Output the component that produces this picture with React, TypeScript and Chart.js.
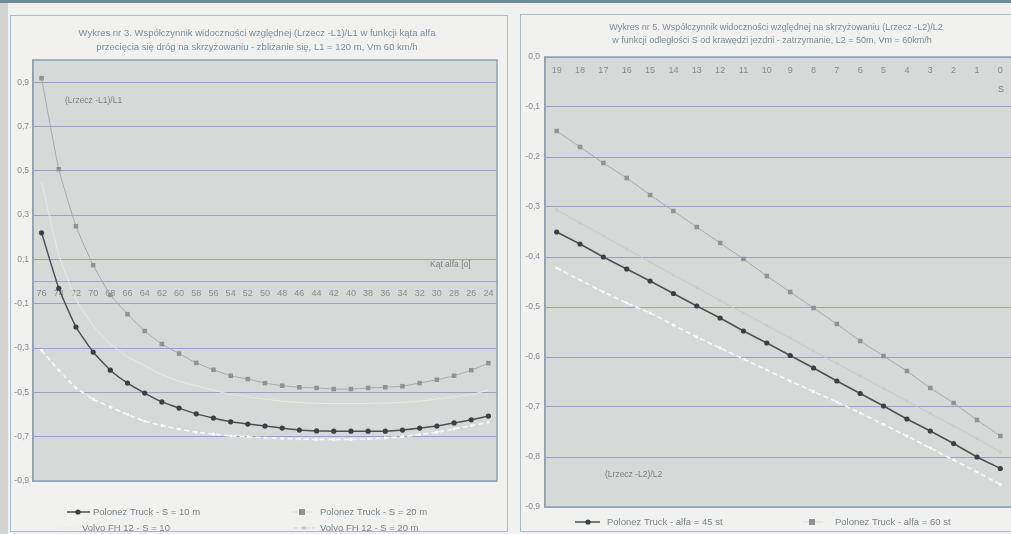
import React, { useEffect, useRef } from "react";
import { Chart, registerables } from "chart.js";

Chart.register(...registerables);

// ---------- data: left chart (Wykres nr 3) ----------
const leftCategories = ["76", "74", "72", "70", "68", "66", "64", "62", "60", "58", "56", "54", "52", "50", "48", "46", "44", "42", "40", "38", "36", "34", "32", "30", "28", "26", "24"];
const leftYTicks = [0.9, 0.7, 0.5, 0.3, 0.1, -0.1, -0.3, -0.5, -0.7, -0.9];
const polonezS10 = [0.22, -0.03, -0.205, -0.318, -0.4, -0.458, -0.503, -0.543, -0.571, -0.597, -0.616, -0.633, -0.643, -0.652, -0.661, -0.67, -0.674, -0.675, -0.675, -0.675, -0.675, -0.67, -0.661, -0.652, -0.638, -0.624, -0.607];
const polonezS20 = [0.918, 0.507, 0.25, 0.074, -0.06, -0.147, -0.223, -0.282, -0.325, -0.367, -0.398, -0.425, -0.44, -0.458, -0.47, -0.477, -0.48, -0.485, -0.485, -0.48, -0.477, -0.472, -0.458, -0.443, -0.425, -0.4, -0.368];
const volvoS10 = [0.45, 0.12, -0.08, -0.2, -0.28, -0.34, -0.38, -0.42, -0.45, -0.47, -0.49, -0.51, -0.52, -0.53, -0.54, -0.545, -0.55, -0.55, -0.55, -0.55, -0.548, -0.545, -0.54, -0.53, -0.52, -0.51, -0.49];
const volvoS20 = [-0.31, -0.4, -0.48, -0.53, -0.566, -0.6, -0.63, -0.65, -0.666, -0.68, -0.688, -0.697, -0.7, -0.705, -0.708, -0.71, -0.712, -0.712, -0.712, -0.71, -0.705, -0.7, -0.69, -0.68, -0.665, -0.65, -0.635];

// ---------- data: right chart (Wykres nr 5) ----------
const rightCategories = ["19", "18", "17", "16", "15", "14", "13", "12", "11", "10", "9", "8", "7", "6", "5", "4", "3", "2", "1", "0"];
const rightYTicks = [0, -0.1, -0.2, -0.3, -0.4, -0.5, -0.6, -0.7, -0.8, -0.9];
const polonezA45 = [-0.35, -0.374, -0.4, -0.424, -0.448, -0.473, -0.498, -0.522, -0.548, -0.572, -0.597, -0.622, -0.648, -0.673, -0.698, -0.724, -0.748, -0.773, -0.8, -0.823];
const polonezA60 = [-0.148, -0.18, -0.212, -0.242, -0.276, -0.308, -0.34, -0.372, -0.404, -0.438, -0.47, -0.502, -0.534, -0.568, -0.598, -0.628, -0.662, -0.692, -0.726, -0.758];
const volvoA60 = [-0.306, -0.332, -0.358, -0.384, -0.41, -0.436, -0.461, -0.487, -0.512, -0.537, -0.562, -0.588, -0.613, -0.638, -0.663, -0.688, -0.713, -0.738, -0.763, -0.79];
const volvoA45 = [-0.422, -0.446, -0.47, -0.492, -0.512, -0.536, -0.56, -0.582, -0.604, -0.626, -0.648, -0.669, -0.69, -0.712, -0.735, -0.758, -0.782, -0.806, -0.83, -0.855];

const FONT = "'Liberation Sans', Arial, sans-serif";
const PLOT_BG = "#d5dad9";
const GRID = "rgba(118,122,188,0.6)";
const TICK_COLOR = "#858d92";
const DARK = "#4a5254";
const DARK_PT = "#394143";
const GRAY_LINE = "#a3abab";
const GRAY_PT = "#8c9494";

const fmt = (v: number) => v.toFixed(1).replace(".", ",");

type TextItem = { text: string; x: number; y: number; size: number; color: string; align?: CanvasTextAlign };
type LegendItem = {
  y: number;
  textX: number;
  text: string;
  line?: { x1: number; x2: number; color: string; width: number; dash?: number[] };
  marker?: { style: "circle" | "rect"; x: number; r: number; color: string };
};

function decorPlugin(id: string, texts: TextItem[], legend: LegendItem[]) {
  return {
    id,
    beforeDraw(chart: any) {
      const { ctx, chartArea: a } = chart;
      ctx.save();
      ctx.fillStyle = PLOT_BG;
      ctx.fillRect(a.left, a.top, a.right - a.left, a.bottom - a.top);
      ctx.restore();
    },
    afterDraw(chart: any) {
      const { ctx, chartArea: a } = chart;
      ctx.save();
      ctx.strokeStyle = "#8fa3b0";
      ctx.lineWidth = 1.5;
      ctx.strokeRect(a.left, a.top, a.right - a.left, a.bottom - a.top);
      ctx.textBaseline = "middle";
      for (const t of texts) {
        ctx.font = `${t.size}px ${FONT}`;
        ctx.fillStyle = t.color;
        ctx.textAlign = t.align || "left";
        ctx.fillText(t.text, t.x, t.y);
      }
      for (const l of legend) {
        if (l.line) {
          ctx.beginPath();
          ctx.setLineDash(l.line.dash || []);
          ctx.strokeStyle = l.line.color;
          ctx.lineWidth = l.line.width;
          ctx.moveTo(l.line.x1, l.y);
          ctx.lineTo(l.line.x2, l.y);
          ctx.stroke();
          ctx.setLineDash([]);
        }
        if (l.marker) {
          ctx.fillStyle = l.marker.color;
          if (l.marker.style === "circle") {
            ctx.beginPath();
            ctx.arc(l.marker.x, l.y, l.marker.r, 0, Math.PI * 2);
            ctx.fill();
          } else {
            ctx.fillRect(l.marker.x - l.marker.r, l.y - l.marker.r, l.marker.r * 2, l.marker.r * 2);
          }
        }
        ctx.font = `9.5px ${FONT}`;
        ctx.fillStyle = "#7c8488";
        ctx.textAlign = "left";
        ctx.fillText(l.text, l.textX, l.y);
      }
      ctx.restore();
    },
  };
}

function ds(label: string, data: number[], kind: "dark" | "gray" | "pale" | "white" | "light") {
  const base: any = { label, data, tension: 0.15, clip: 4 };
  if (kind === "dark") {
    return { ...base, borderColor: DARK, borderWidth: 1.5, pointStyle: "circle", pointRadius: 2.6, pointBackgroundColor: DARK_PT, pointBorderColor: DARK_PT, pointBorderWidth: 0 };
  }
  if (kind === "gray") {
    return { ...base, borderColor: GRAY_LINE, borderWidth: 1, pointStyle: "rect", pointRadius: 3.2, pointBackgroundColor: GRAY_PT, pointBorderColor: GRAY_PT, pointBorderWidth: 0 };
  }
  if (kind === "pale") {
    return { ...base, borderColor: "rgba(236,236,222,0.9)", borderWidth: 1, pointRadius: 0 };
  }
  if (kind === "light") {
    return { ...base, borderColor: "#c3cacb", borderWidth: 1, pointStyle: "rect", pointRadius: 2, pointBackgroundColor: "#c7cdce", pointBorderWidth: 0 };
  }
  return { ...base, borderColor: "#f6f8f8", borderWidth: 1.6, borderDash: [5, 3], pointStyle: "rect", pointRadius: 1.8, pointBackgroundColor: "#ffffff", pointBorderWidth: 0 };
}

function leftConfig(): any {
  const texts: TextItem[] = [
    { text: "Wykres nr 3. Współczynnik widoczności względnej (Lrzecz -L1)/L1 w funkcji kąta alfa", x: 247, y: 18, size: 9.5, color: "#7d8e99", align: "center" },
    { text: "przecięcia się dróg na skrzyżowaniu - zbliżanie się, L1 = 120 m, Vm 60 km/h", x: 247, y: 32, size: 9.5, color: "#7d8e99", align: "center" },
    { text: "(Lrzecz -L1)/L1", x: 55, y: 86, size: 8.5, color: "#7a8082" },
    { text: "Kąt alfa [o]", x: 420, y: 250, size: 8.5, color: "#7a8082" },
  ];
  const legend: LegendItem[] = [
    { y: 497, textX: 83, text: "Polonez Truck - S = 10 m", line: { x1: 57, x2: 80, color: DARK, width: 1.5 }, marker: { style: "circle", x: 68, r: 2.6, color: DARK_PT } },
    { y: 513, textX: 72, text: "Volvo FH 12 - S = 10", line: { x1: 47, x2: 69, color: "rgba(236,236,222,0.9)", width: 1 } },
    { y: 497, textX: 310, text: "Polonez Truck - S = 20 m", line: { x1: 282, x2: 303, color: "#dde0e0", width: 1 }, marker: { style: "rect", x: 292, r: 3, color: GRAY_PT } },
    { y: 513, textX: 310, text: "Volvo FH 12 - S = 20 m", line: { x1: 284, x2: 305, color: "#c9cece", width: 1.2, dash: [4, 2] }, marker: { style: "rect", x: 294, r: 1.6, color: "#c0c6c6" } },
  ];
  return {
    type: "line",
    data: {
      labels: leftCategories,
      datasets: [
        ds("Volvo FH 12 - S = 10", volvoS10, "pale"),
        ds("Volvo FH 12 - S = 20 m", volvoS20, "white"),
        ds("Polonez Truck - S = 20 m", polonezS20, "gray"),
        ds("Polonez Truck - S = 10 m", polonezS10, "dark"),
      ],
    },
    options: {
      responsive: false,
      animation: false,
      layout: { padding: { top: 45, bottom: 53, left: 0, right: 11 } },
      plugins: { legend: { display: false }, title: { display: false }, tooltip: { enabled: false } },
      scales: {
        x: {
          type: "category",
          position: { y: 0 },
          offset: true,
          grid: { display: false, drawTicks: false },
          border: { display: true, color: "rgba(140,138,190,0.7)", width: 1 },
          ticks: { color: TICK_COLOR, font: { family: FONT, size: 9 }, padding: 7, maxRotation: 0, autoSkip: false },
        },
        y: {
          type: "linear",
          min: -0.9,
          max: 1.0,
          afterBuildTicks: (s: any) => {
            s.ticks = leftYTicks.map((v) => ({ value: v }));
          },
          afterFit: (s: any) => {
            s.width = 23;
          },
          grid: { color: GRID, lineWidth: 1, drawTicks: false },
          border: { display: true, color: "#8fa3b0", width: 1.5 },
          ticks: { color: TICK_COLOR, font: { family: FONT, size: 8.5 }, padding: 4, callback: (v: any) => fmt(Number(v)) },
        },
      },
    },
    plugins: [decorPlugin("decorLeft", texts, legend)],
  };
}

function rightConfig(): any {
  const texts: TextItem[] = [
    { text: "Wykres nr 5. Współczynnik widoczności względnej na skrzyżowaniu (Lrzecz -L2)/L2", x: 256, y: 13, size: 9, color: "#7d8e99", align: "center" },
    { text: "w funkcji odległości S od krawędzi jezdni - zatrzymanie, L2 = 50m, Vm = 60km/h", x: 252, y: 26, size: 9, color: "#7d8e99", align: "center" },
    { text: "(Lrzecz -L2)/L2", x: 85, y: 460, size: 8.5, color: "#7a8082" },
    { text: "S", x: 481, y: 75, size: 9, color: "#7a8082", align: "center" },
  ];
  const legend: LegendItem[] = [
    { y: 507, textX: 87, text: "Polonez Truck - alfa = 45 st", line: { x1: 55, x2: 80, color: DARK, width: 1.5 }, marker: { style: "circle", x: 68, r: 2.6, color: DARK_PT } },
    { y: 507, textX: 315, text: "Polonez Truck - alfa = 60 st", line: { x1: 283, x2: 303, color: "#dde0e0", width: 1 }, marker: { style: "rect", x: 292, r: 3, color: GRAY_PT } },
  ];
  return {
    type: "line",
    data: {
      labels: rightCategories,
      datasets: [
        ds("Volvo FH 12 - alfa = 60 st", volvoA60, "light"),
        ds("Volvo FH 12 - alfa = 45 st", volvoA45, "white"),
        ds("Polonez Truck - alfa = 60 st", polonezA60, "gray"),
        ds("Polonez Truck - alfa = 45 st", polonezA45, "dark"),
      ],
    },
    options: {
      responsive: false,
      animation: false,
      layout: { padding: { top: 42, bottom: 27, left: 0, right: 3 } },
      plugins: { legend: { display: false }, title: { display: false }, tooltip: { enabled: false } },
      scales: {
        x: {
          type: "category",
          position: { y: 0 },
          offset: true,
          grid: { display: false, drawTicks: false },
          border: { display: true, color: "#8fa3b0", width: 1 },
          ticks: { color: TICK_COLOR, font: { family: FONT, size: 9 }, padding: 8, maxRotation: 0, autoSkip: false },
        },
        y: {
          type: "linear",
          min: -0.9,
          max: 0,
          afterBuildTicks: (s: any) => {
            s.ticks = rightYTicks.map((v) => ({ value: v }));
          },
          afterFit: (s: any) => {
            s.width = 25;
          },
          grid: { color: GRID, lineWidth: 1, drawTicks: false },
          border: { display: true, color: "#8fa3b0", width: 1.5 },
          ticks: { color: TICK_COLOR, font: { family: FONT, size: 8.5 }, padding: 5, callback: (v: any) => fmt(Number(v)) },
        },
      },
    },
    plugins: [decorPlugin("decorRight", texts, legend)],
  };
}

export default function App() {
  const leftRef = useRef<HTMLCanvasElement>(null);
  const rightRef = useRef<HTMLCanvasElement>(null);

  useEffect(() => {
    const c1 = new Chart(leftRef.current as HTMLCanvasElement, leftConfig());
    const c2 = new Chart(rightRef.current as HTMLCanvasElement, rightConfig());
    return () => {
      c1.destroy();
      c2.destroy();
    };
  }, []);

  const abs = (s: React.CSSProperties): React.CSSProperties => ({ position: "absolute", boxSizing: "border-box", ...s });

  return (
    <div style={abs({ left: 0, top: 0, width: 1011, height: 534, overflow: "hidden", background: "#f1f2f0" })}>
      <div style={abs({ left: 0, top: 0, width: 1011, height: 3, background: "#6f8b97" })} />
      <div style={abs({ left: 0, top: 3, width: 8, height: 531, background: "#d3d4d2" })} />
      <div style={abs({ left: 10, top: 15, width: 498, height: 517, border: "1.5px solid #a6bcc8" })} />
      <div style={abs({ left: 520, top: 14, width: 500, height: 518, border: "1.5px solid #a6bcc8" })} />
      <canvas ref={leftRef} width={498} height={519} style={abs({ left: 10, top: 15, width: 498, height: 519 })} />
      <canvas ref={rightRef} width={496} height={519} style={abs({ left: 520, top: 15, width: 496, height: 519 })} />
    </div>
  );
}
